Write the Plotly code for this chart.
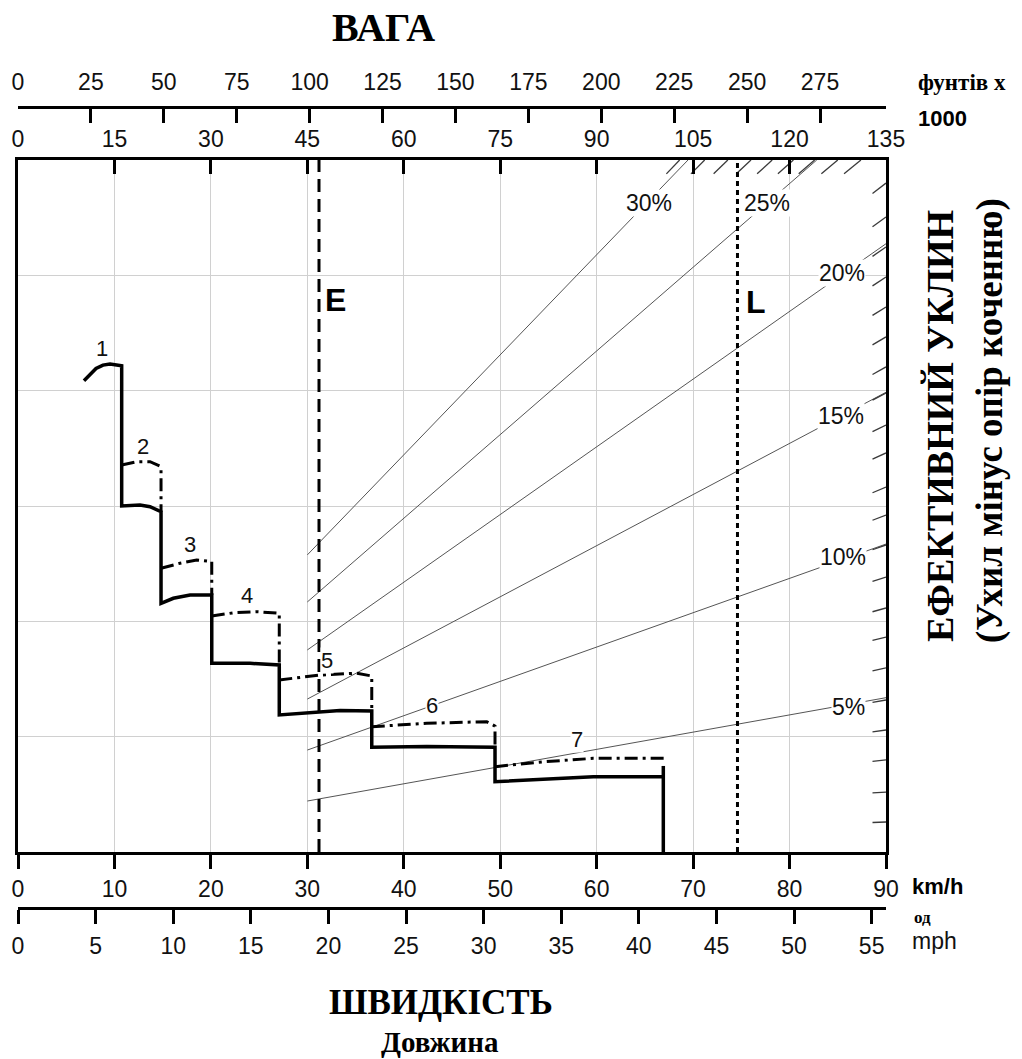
import plotly.graph_objects as go

# ---------------- data ----------------
# solid rimpull envelope (gears 1-7), speed km/h vs rimpull (t)
speed_solid = [6.84, 7.47, 8.09, 8.81, 9.54, 10.75, 10.75, 12.65, 13.69, 14.83, 14.83, 16.10, 17.84, 20.09,
               20.09, 24.06, 27.09, 27.09, 30.28, 33.39, 36.68, 36.68, 42.38, 49.46, 49.46, 54.44, 59.65,
               66.91, None, 66.91, 66.91]
rimpull_solid = [20.43, 20.72, 20.96, 21.11, 21.16, 21.08, 15.00, 15.04, 14.97, 14.75, 10.78, 11.00, 11.14, 11.14,
                 8.18, 8.18, 8.11, 5.94, 6.04, 6.13, 6.11, 4.54, 4.57, 4.54, 3.05, 3.15, 3.26,
                 3.26, None, 3.73, 0.0]

# dash-dot curves (gears 2-7)
g2_x = [10.75, 12.31, 13.69, 14.72, 14.83, 14.83]
g2_y = [16.78, 16.92, 16.92, 16.73, 16.60, 14.75]
g3_x = [14.83, 16.80, 18.53, 20.09, 20.09]
g3_y = [12.30, 12.52, 12.66, 12.59, 11.14]
g4_x = [20.09, 22.33, 24.75, 27.09, 27.09]
g4_y = [10.23, 10.37, 10.42, 10.35, 8.11]
g5_x = [27.09, 31.31, 35.12, 36.68, 36.68]
g5_y = [7.46, 7.67, 7.75, 7.63, 6.11]
g6_x = [36.68, 42.38, 48.60, 49.46, 49.46]
g6_y = [5.43, 5.58, 5.65, 5.46, 4.54]
g7_x = [49.46, 54.47, 59.65, 67.09]
g7_y = [3.70, 3.91, 4.06, 4.06]

gear_labels = ["1", "2", "3", "4", "5", "6", "7"]
gear_label_x = [8.68, 12.93, 17.84, 23.71, 32.01, 42.89, 57.93]
gear_label_y = [21.84, 17.60, 13.35, 11.10, 8.29, 6.37, 4.89]

# grade lines
grade_labels = ["5%", "10%", "15%", "20%", "25%", "30%"]
grade_x0 = [30, 30, 30, 30, 30, 30]
grade_y0 = [2.21, 4.42, 6.63, 8.76, 10.84, 12.88]
grade_x1 = [90, 90, 90, 90, 82.82, 69.47]
grade_y1 = [6.69, 13.35, 19.93, 26.37, 30, 30]
grade_label_x = [86.07, 85.54, 85.34, 85.44, 77.67, 65.43]
grade_label_y = [6.29, 12.79, 18.90, 25.10, 28.14, 28.14]

# weight markers
E_speed = 31.21
L_speed = 74.6

# boundary hatch positions
hatch_right_y = [1.30, 2.60, 3.99, 5.29, 6.59, 7.98, 9.32, 10.58, 11.92, 13.31, 14.61, 15.82, 17.30,
                 18.51, 19.90, 21.03, 22.33, 23.63, 24.93, 26.23, 27.53, 29.00]
hatch_top_x = [68.6, 71.2, 73.6, 76.0, 78.2, 80.4, 82.6, 85.0, 87.4]

# axis ticks
kmh_ticks = list(range(0, 91, 10))
mph_ticks = list(range(0, 56, 5))
kg_ticks = list(range(0, 136, 15))
lbs_ticks = list(range(0, 276, 25))

X_MAX, Y_MAX = 90, 30

# ---------------- figure ----------------
W, H = 1022, 1059
PL, PR, PT, PB = 18, 886, 160, 852


def fx(p):
    return p / W


def fy(p):
    return 1 - p / H


SANS = "Liberation Sans"
SERIF = "Liberation Serif"

fig = go.Figure()

# grade lines
for x0, y0, x1, y1 in zip(grade_x0, grade_y0, grade_x1, grade_y1):
    fig.add_trace(go.Scatter(x=[x0, x1], y=[y0, y1], mode="lines",
                             line=dict(color="#555555", width=1), hoverinfo="skip"))

# hatches along boundary
hx, hy = [], []
for yv in hatch_right_y:
    xs = X_MAX - 1.4
    hx += [xs, X_MAX, None]
    hy += [yv * xs / X_MAX, yv, None]
for xv in hatch_top_x:
    ys = Y_MAX - 0.6
    hx += [xv * ys / Y_MAX, xv, None]
    hy += [ys, Y_MAX, None]
fig.add_trace(go.Scatter(x=hx, y=hy, mode="lines", line=dict(color="#3a3a3a", width=1.3), hoverinfo="skip"))

# E and L lines
fig.add_trace(go.Scatter(x=[E_speed, E_speed], y=[0, Y_MAX], mode="lines",
                         line=dict(color="black", width=3, dash="13px,7px"), hoverinfo="skip"))
fig.add_trace(go.Scatter(x=[L_speed, L_speed], y=[0, Y_MAX], mode="lines",
                         line=dict(color="black", width=3, dash="5px,4px"), hoverinfo="skip"))

# dash-dot gear curves
ddx, ddy = [], []
for gx, gy in [(g2_x, g2_y), (g3_x, g3_y), (g4_x, g4_y), (g5_x, g5_y), (g6_x, g6_y), (g7_x, g7_y)]:
    ddx += gx + [None]
    ddy += gy + [None]
fig.add_trace(go.Scatter(x=ddx, y=ddy, mode="lines",
                         line=dict(color="black", width=3, dash="13px,5px,3px,5px"), hoverinfo="skip"))

# solid envelope
fig.add_trace(go.Scatter(x=speed_solid, y=rimpull_solid, mode="lines",
                         line=dict(color="black", width=3.5), hoverinfo="skip", connectgaps=False))

# dummy traces to materialize extra axes
fig.add_trace(go.Scatter(x=[0, 135], y=[0, 0], xaxis="x2", yaxis="y", mode="markers",
                         marker=dict(opacity=0), hoverinfo="skip"))
fig.add_trace(go.Scatter(x=[0, 275], y=[0, 0], xaxis="x3", yaxis="y", mode="markers",
                         marker=dict(opacity=0), hoverinfo="skip"))
fig.add_trace(go.Scatter(x=[0, 55], y=[0, 0], xaxis="x4", yaxis="y", mode="markers",
                         marker=dict(opacity=0), hoverinfo="skip"))

tickfont = dict(family=SANS, size=23, color="#111")
xdom = [fx(PL), fx(PR)]

fig.update_layout(
    width=W, height=H, margin=dict(l=0, r=0, t=0, b=0, autoexpand=False),
    paper_bgcolor="white", plot_bgcolor="white", showlegend=False,
    xaxis=dict(domain=xdom, range=[0, X_MAX], tickvals=kmh_ticks, ticktext=[str(v) for v in kmh_ticks],
               ticks="outside", ticklen=14, tickwidth=3, tickcolor="black",
               showline=True, linewidth=3, linecolor="black",
               showgrid=True, gridcolor="#d0d0d0", gridwidth=1, zeroline=False,
               tickfont=tickfont, ticklabelstandoff=0, fixedrange=True, automargin=False),
    xaxis2=dict(overlaying="x", anchor="y", side="top", range=[0, 135], tickvals=kg_ticks,
                ticks="inside", ticklen=14, tickwidth=3, tickcolor="black",
                showline=True, linewidth=3, linecolor="black", showgrid=False, zeroline=False,
                tickfont=tickfont, ticklabelstandoff=1, automargin=False),
    xaxis3=dict(overlaying="x", anchor="free", position=fy(107), side="top",
                range=[0, 135 * 2.20462], tickvals=lbs_ticks,
                ticks="inside", ticklen=14, tickwidth=3, tickcolor="black",
                showline=True, linewidth=3, linecolor="black", showgrid=False, zeroline=False,
                tickfont=tickfont, ticklabelstandoff=7, automargin=False),
    xaxis4=dict(overlaying="x", anchor="free", position=fy(908), side="bottom",
                range=[0, 90 / 1.609344], tickvals=mph_ticks,
                ticks="outside", ticklen=14, tickwidth=3, tickcolor="black",
                showline=True, linewidth=3, linecolor="black", showgrid=False, zeroline=False,
                tickfont=tickfont, ticklabelstandoff=2, automargin=False),
    yaxis=dict(domain=[fy(PB), fy(PT)], range=[0, Y_MAX], dtick=5, showticklabels=False, ticks="",
               showline=True, linewidth=3, linecolor="black", mirror=True,
               showgrid=True, gridcolor="#d0d0d0", gridwidth=1, zeroline=False, fixedrange=True,
               automargin=False),
)

ann = []
# grade labels
for t, x, y in zip(grade_labels, grade_label_x, grade_label_y):
    ann.append(dict(x=x, y=y, xref="x", yref="y", text=t, showarrow=False, xanchor="center", yanchor="middle",
                    font=dict(family=SANS, size=23, color="#111"), bgcolor="white", borderpad=0))
# gear labels
for t, x, y in zip(gear_labels, gear_label_x, gear_label_y):
    ann.append(dict(x=x, y=y, xref="x", yref="y", text=t, showarrow=False, xanchor="center", yanchor="middle",
                    font=dict(family=SANS, size=22, color="#111"), bgcolor="white", borderpad=0))
# E, L
ann.append(dict(x=32.97, y=23.93, xref="x", yref="y", text="E", showarrow=False,
                xanchor="center", yanchor="middle",
                font=dict(family=SANS, size=32, color="black", weight="bold")))
ann.append(dict(x=76.52, y=23.84, xref="x", yref="y", text="L", showarrow=False,
                xanchor="center", yanchor="middle",
                font=dict(family=SANS, size=32, color="black", weight="bold")))


def paper_text(px_x, px_y, text, font, xanchor="center", angle=0):
    return dict(x=fx(px_x), y=fy(px_y), xref="paper", yref="paper", text=text, showarrow=False,
                xanchor=xanchor, yanchor="middle", textangle=angle, font=font)


ann.append(paper_text(383, 27, "ВАГА", dict(family=SERIF, size=40, color="black", weight="bold")))
ann.append(paper_text(916, 83, "фунтів x", dict(family=SERIF, size=23, color="black", weight="bold"), "left"))
ann.append(paper_text(916, 118, "1000", dict(family=SANS, size=22, color="black", weight="bold"), "left"))
ann.append(paper_text(910, 886, "km/h", dict(family=SANS, size=22, color="black", weight="bold"), "left"))
ann.append(paper_text(912, 917, "од", dict(family=SERIF, size=17, color="black", weight="bold"), "left"))
ann.append(paper_text(910, 941, "mph", dict(family=SANS, size=23, color="#111"), "left"))
ann.append(paper_text(441, 1002, "ШВИДКІСТЬ", dict(family=SERIF, size=35, color="black", weight="bold")))
ann.append(paper_text(440, 1042, "Довжина", dict(family=SERIF, size=29, color="black", weight="bold")))
ann.append(paper_text(940, 426, "ЕФЕКТИВНИЙ УКЛИН",
                      dict(family=SERIF, size=38, color="black", weight="bold"), "center", -90))
ann.append(paper_text(990, 421, "(Ухил мінус опір коченню)",
                      dict(family=SERIF, size=37, color="black", weight="bold"), "center", -90))

fig.update_layout(annotations=ann)

fig.write_html("out.html")
